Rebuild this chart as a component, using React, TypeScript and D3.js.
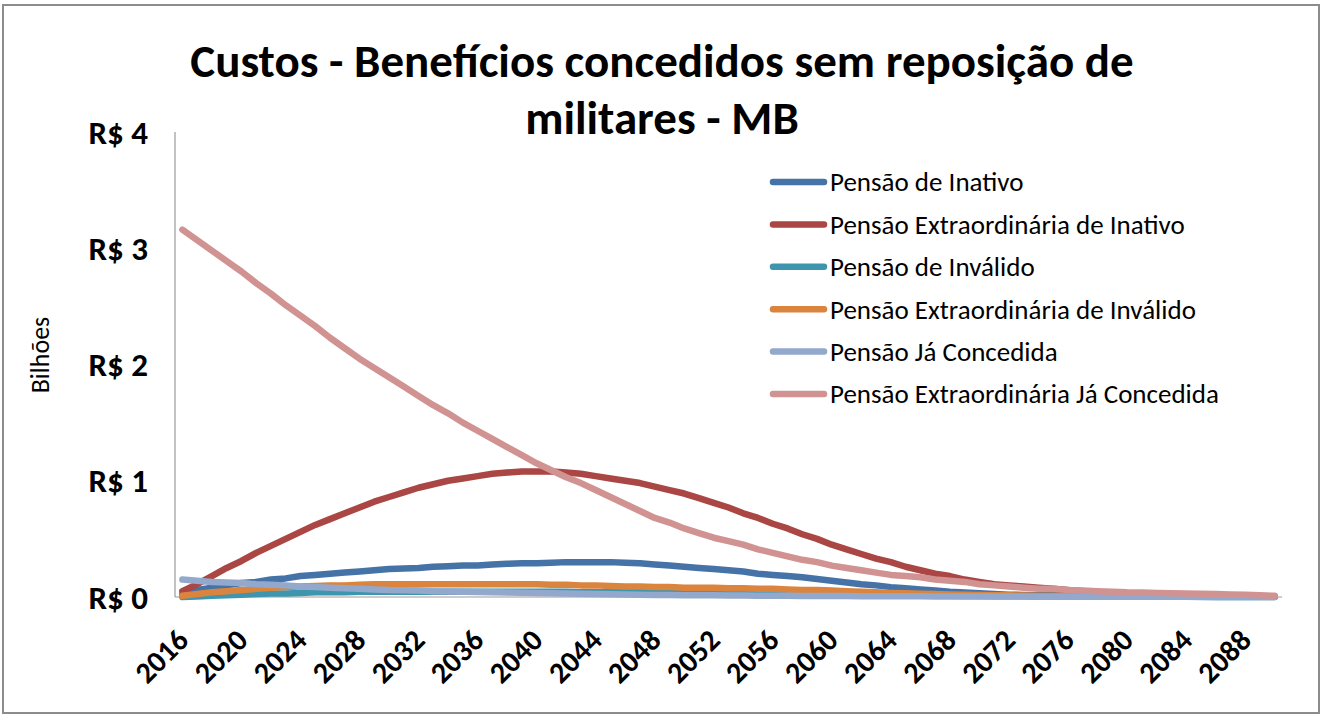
import { useEffect } from "react";
import * as d3 from "d3";

const years: number[] = d3.range(2016, 2091);

const seriesNames = [
  "Pensão de Inativo",
  "Pensão Extraordinária de Inativo",
  "Pensão de Inválido",
  "Pensão Extraordinária de Inválido",
  "Pensão Já Concedida",
  "Pensão Extraordinária Já Concedida",
];

// valores em bilhões de R$, 2016..2090
const inativo = [
  0.03, 0.06, 0.08, 0.10, 0.12, 0.13, 0.15, 0.16, 0.18, 0.19, 0.20, 0.21, 0.22,
  0.23, 0.24, 0.245, 0.25, 0.26, 0.265, 0.27, 0.27, 0.28, 0.285, 0.29, 0.29,
  0.295, 0.30, 0.30, 0.30, 0.30, 0.295, 0.29, 0.28, 0.27, 0.26, 0.25, 0.24,
  0.23, 0.22, 0.20, 0.19, 0.18, 0.17, 0.155, 0.14, 0.125, 0.11, 0.10, 0.085,
  0.075, 0.065, 0.055, 0.045, 0.038, 0.032, 0.026, 0.02, 0.018, 0.016, 0.014,
  0.012, 0.011, 0.01, 0.009, 0.008, 0.007, 0.007, 0.006, 0.006, 0.005, 0.005,
  0.004, 0.004, 0.003, 0.003,
];
const extraInativo = [
  0.05, 0.11, 0.18, 0.25, 0.31, 0.38, 0.44, 0.50, 0.56, 0.62, 0.67, 0.72, 0.77,
  0.82, 0.86, 0.90, 0.94, 0.97, 1.00, 1.02, 1.04, 1.06, 1.07, 1.08, 1.08,
  1.08, 1.07, 1.06, 1.04, 1.02, 1.00, 0.98, 0.95, 0.92, 0.89, 0.85, 0.81,
  0.77, 0.72, 0.68, 0.63, 0.59, 0.54, 0.50, 0.45, 0.41, 0.37, 0.33, 0.30,
  0.26, 0.23, 0.20, 0.18, 0.15, 0.13, 0.11, 0.10, 0.09, 0.08, 0.07, 0.06,
  0.05, 0.04, 0.035, 0.03, 0.025, 0.02, 0.018, 0.015, 0.012, 0.01, 0.008,
  0.006, 0.004, 0.003,
];
const invalido = [
  0.0, 0.005, 0.01, 0.015, 0.02, 0.025, 0.03, 0.03, 0.035, 0.04, 0.04, 0.04,
  0.045, 0.045, 0.045, 0.045, 0.045, 0.045, 0.045, 0.045, 0.045, 0.045, 0.045,
  0.045, 0.045, 0.045, 0.045, 0.04, 0.04, 0.04, 0.04, 0.04, 0.04, 0.035, 0.035,
  0.035, 0.035, 0.03, 0.03, 0.03, 0.03, 0.025, 0.025, 0.025, 0.02, 0.02, 0.02,
  0.018, 0.016, 0.014, 0.012, 0.011, 0.01, 0.009, 0.008, 0.007, 0.006, 0.006,
  0.005, 0.005, 0.004, 0.004, 0.004, 0.003, 0.003, 0.003, 0.002, 0.002, 0.002,
  0.002, 0.001, 0.001, 0.001, 0.001, 0.001,
];
const extraInvalido = [
  0.01, 0.025, 0.04, 0.05, 0.06, 0.07, 0.08, 0.085, 0.09, 0.095, 0.10, 0.10,
  0.105, 0.11, 0.11, 0.11, 0.11, 0.11, 0.11, 0.11, 0.11, 0.11, 0.11, 0.11,
  0.11, 0.105, 0.105, 0.10, 0.10, 0.095, 0.09, 0.09, 0.085, 0.085, 0.08, 0.08,
  0.08, 0.075, 0.075, 0.07, 0.07, 0.065, 0.06, 0.06, 0.055, 0.05, 0.045, 0.04,
  0.035, 0.032, 0.028, 0.025, 0.022, 0.02, 0.018, 0.016, 0.014, 0.012, 0.011,
  0.01, 0.009, 0.008, 0.007, 0.007, 0.006, 0.006, 0.005, 0.005, 0.004, 0.004,
  0.003, 0.003, 0.003, 0.002, 0.002,
];
const jaConcedida = [
  0.15, 0.14, 0.13, 0.125, 0.12, 0.11, 0.105, 0.10, 0.09, 0.085, 0.08, 0.075,
  0.07, 0.065, 0.06, 0.058, 0.055, 0.05, 0.048, 0.045, 0.042, 0.04, 0.038,
  0.036, 0.034, 0.032, 0.03, 0.028, 0.026, 0.024, 0.022, 0.02, 0.018, 0.017,
  0.016, 0.015, 0.014, 0.013, 0.012, 0.011, 0.01, 0.01, 0.009, 0.009, 0.008,
  0.008, 0.007, 0.007, 0.006, 0.006, 0.006, 0.005, 0.005, 0.005, 0.004, 0.004,
  0.004, 0.004, 0.003, 0.003, 0.003, 0.003, 0.003, 0.002, 0.002, 0.002, 0.002,
  0.002, 0.002, 0.001, 0.001, 0.001, 0.001, 0.001, 0.001,
];
const extraJaConcedida = [
  3.16, 3.07, 2.98, 2.89, 2.80, 2.70, 2.61, 2.51, 2.42, 2.33, 2.23, 2.14, 2.05,
  1.97, 1.89, 1.81, 1.73, 1.65, 1.58, 1.50, 1.43, 1.36, 1.29, 1.22, 1.15,
  1.09, 1.03, 0.98, 0.92, 0.86, 0.80, 0.74, 0.68, 0.64, 0.59, 0.55, 0.51,
  0.48, 0.45, 0.41, 0.38, 0.35, 0.32, 0.30, 0.27, 0.25, 0.23, 0.21, 0.19,
  0.18, 0.17, 0.15, 0.14, 0.13, 0.11, 0.10, 0.09, 0.08, 0.07, 0.07, 0.06,
  0.055, 0.05, 0.045, 0.04, 0.038, 0.035, 0.032, 0.03, 0.028, 0.025, 0.022,
  0.02, 0.015, 0.01,
];

const seriesValues = [inativo, extraInativo, invalido, extraInvalido, jaConcedida, extraJaConcedida];
const colors = ["#4572A7", "#AA4643", "#3D96AE", "#DB843D", "#92A8CD", "#D09392"];
const yTicks = [0, 1, 2, 3, 4];
const titleLines = ["Custos - Benefícios concedidos sem reposição de", "militares - MB"];

const W = 1323;
const H = 716;
const plot = { left: 175, right: 1282, top: 132, bottom: 597 };
const font = "Calibri, Carlito, Lato, 'Open Sans', sans-serif";

export default function App() {
  useEffect(() => {
    document.body.style.margin = "0";
  }, []);

  const x = d3.scaleBand<number>().domain(years).range([plot.left, plot.right]);
  const cx = (yr: number) => (x(yr) ?? 0) + x.bandwidth() / 2;
  const y = d3.scaleLinear().domain([0, 4]).range([plot.bottom, plot.top]);

  const line = d3
    .line<number>()
    .x((_, i) => cx(years[i]))
    .y((d) => y(d));

  const labelYears = years.filter((yr) => (yr - 2016) % 4 === 0);

  return (
    <svg width={W} height={H} style={{ display: "block", fontFamily: font }}>
      <rect x={0} y={0} width={W} height={H} fill="#fff" />
      <rect x={3} y={5} width={1316} height={708} fill="none" stroke="#8c8c8c" strokeWidth={2} />

      {/* título */}
      {titleLines.map((t, i) => (
        <text
          key={t}
          x={662}
          y={77 + i * 57}
          textAnchor="middle"
          fontWeight="bold"
          fontSize={47}
          fill="#000"
        >
          {t}
        </text>
      ))}

      {/* eixos */}
      <line x1={plot.left} x2={plot.left} y1={plot.top} y2={plot.bottom} stroke="#9a9a9a" strokeWidth={1.2} />
      <line x1={plot.left} x2={plot.right} y1={plot.bottom} y2={plot.bottom} stroke="#9a9a9a" strokeWidth={1.2} />

      {yTicks.map((t) => (
        <text
          key={t}
          x={148}
          y={y(t)}
          dy="0.35em"
          textAnchor="end"
          fontWeight="bold"
          fontSize={33}
        >
          {`R$ ${t}`}
        </text>
      ))}

      <text
        transform={`translate(40, 355) rotate(-90)`}
        textAnchor="middle"
        dy="0.35em"
        fontSize={26}
      >
        Bilhões
      </text>

      {labelYears.map((yr) => (
        <text
          key={yr}
          transform={`translate(${cx(yr) + 8}, 642) rotate(-45)`}
          textAnchor="end"
          fontWeight="bold"
          fontSize={30}
        >
          {yr}
        </text>
      ))}

      {/* linhas */}
      {seriesValues.map((vals, i) => (
        <path
          key={seriesNames[i]}
          d={line(vals) ?? ""}
          fill="none"
          stroke={colors[i]}
          strokeWidth={6.5}
          strokeLinejoin="round"
          strokeLinecap="round"
        />
      ))}

      {/* legenda */}
      {seriesNames.map((name, i) => {
        const ly = 182 + i * 42.4;
        return (
          <g key={name}>
            <line x1={773} x2={824} y1={ly} y2={ly} stroke={colors[i]} strokeWidth={6.5} strokeLinecap="round" />
            <text x={830} y={ly} dy="0.35em" fontSize={27}>
              {name}
            </text>
          </g>
        );
      })}
    </svg>
  );
}
